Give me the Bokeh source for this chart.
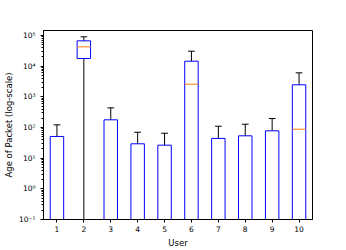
from bokeh.plotting import figure
from bokeh.models import ColumnDataSource, Range1d, FixedTicker, CustomJSTickFormatter
from bokeh.embed import file_html
from bokeh.resources import INLINE

users = [1, 2, 3, 4, 5, 6, 7, 8, 9, 10]
q1 = [0, 17800, 0, 0, 0, 0, 0, 0, 0, 0]
median = [0, 42700, 0, 0, 0, 2580, 0, 0, 0, 88]
q3 = [51, 67000, 178, 29.4, 26.5, 14500, 44, 53.5, 78, 2470]
whisker_lo = [0, 0, 0, 0, 0, 0, 0, 0, 0, 0]
whisker_hi = [122, 90600, 437, 70, 65, 30800, 110, 128, 196, 6060]

FLOOR = 1e-3  # zero cannot be shown on a log axis; place it below the visible range


def fl(v):
    return [max(x, FLOOR) for x in v]


box_w = 0.5
cap_w = 0.25
src = ColumnDataSource(dict(
    x=users,
    left=[u - box_w / 2 for u in users],
    right=[u + box_w / 2 for u in users],
    cl=[u - cap_w / 2 for u in users],
    cr=[u + cap_w / 2 for u in users],
    q1=fl(q1), q3=fl(q3), med=fl(median),
    wlo=fl(whisker_lo), whi=fl(whisker_hi),
))

p = figure(width=346, height=250, y_axis_type="log",
           x_range=Range1d(0.5, 10.5), y_range=Range1d(0.1, 1.455e5),
           output_backend="svg", toolbar_location=None,
           min_border_left=43, min_border_right=34, min_border_top=30, min_border_bottom=31)

p.segment(x0="x", y0="q3", x1="x", y1="whi", source=src, line_color="black", line_width=1)
p.segment(x0="x", y0="q1", x1="x", y1="wlo", source=src, line_color="black", line_width=1)
p.segment(x0="cl", y0="whi", x1="cr", y1="whi", source=src, line_color="black", line_width=1)
p.segment(x0="cl", y0="wlo", x1="cr", y1="wlo", source=src, line_color="black", line_width=1)
p.quad(left="left", right="right", bottom="q1", top="q3", source=src,
       fill_color=None, line_color="#0000ff", line_width=1)
p.segment(x0="left", y0="med", x1="right", y1="med", source=src, line_color="#ff7f0e", line_width=1)

p.xgrid.visible = False
p.ygrid.visible = False
p.outline_line_color = "black"
p.outline_line_width = 1

p.xaxis.ticker = FixedTicker(ticks=users)
decades = [0.1, 1, 10, 100, 1000, 10000, 100000]
minors = [m * d for d in decades for m in range(2, 10)]
p.yaxis.ticker = FixedTicker(ticks=decades, minor_ticks=minors)
p.yaxis.formatter = CustomJSTickFormatter(code="""
const e = Math.round(Math.log10(tick));
const sup = {'-':'\u207b','0':'\u2070','1':'\u00b9','2':'\u00b2','3':'\u00b3','4':'\u2074','5':'\u2075','6':'\u2076','7':'\u2077','8':'\u2078','9':'\u2079'};
return '10' + String(e).split('').map(c => sup[c]).join('');
""")

p.xaxis.axis_label = "User"
p.yaxis.axis_label = "Age of Packet (log-scale)"
for ax in (p.xaxis, p.yaxis):
    ax.axis_line_color = "black"
    ax.major_tick_line_color = "black"
    ax.minor_tick_line_color = "black"
    ax.major_tick_in = 0
    ax.major_tick_out = 3
    ax.minor_tick_in = 0
    ax.minor_tick_out = 2
    ax.major_label_text_font = "DejaVu Sans"
    ax.major_label_text_font_size = "7.5px"
    ax.major_label_text_color = "black"
    ax.axis_label_text_font = "DejaVu Sans"
    ax.axis_label_text_font_size = "8.5px"
    ax.axis_label_text_font_style = "normal"
    ax.axis_label_text_color = "black"
p.xaxis.major_label_standoff = 3
p.xaxis.axis_label_standoff = 3
p.yaxis.major_label_standoff = 5
p.yaxis.axis_label_standoff = 2
p.xaxis.minor_tick_line_color = None

open("out.html", "w").write(file_html(p, INLINE))
